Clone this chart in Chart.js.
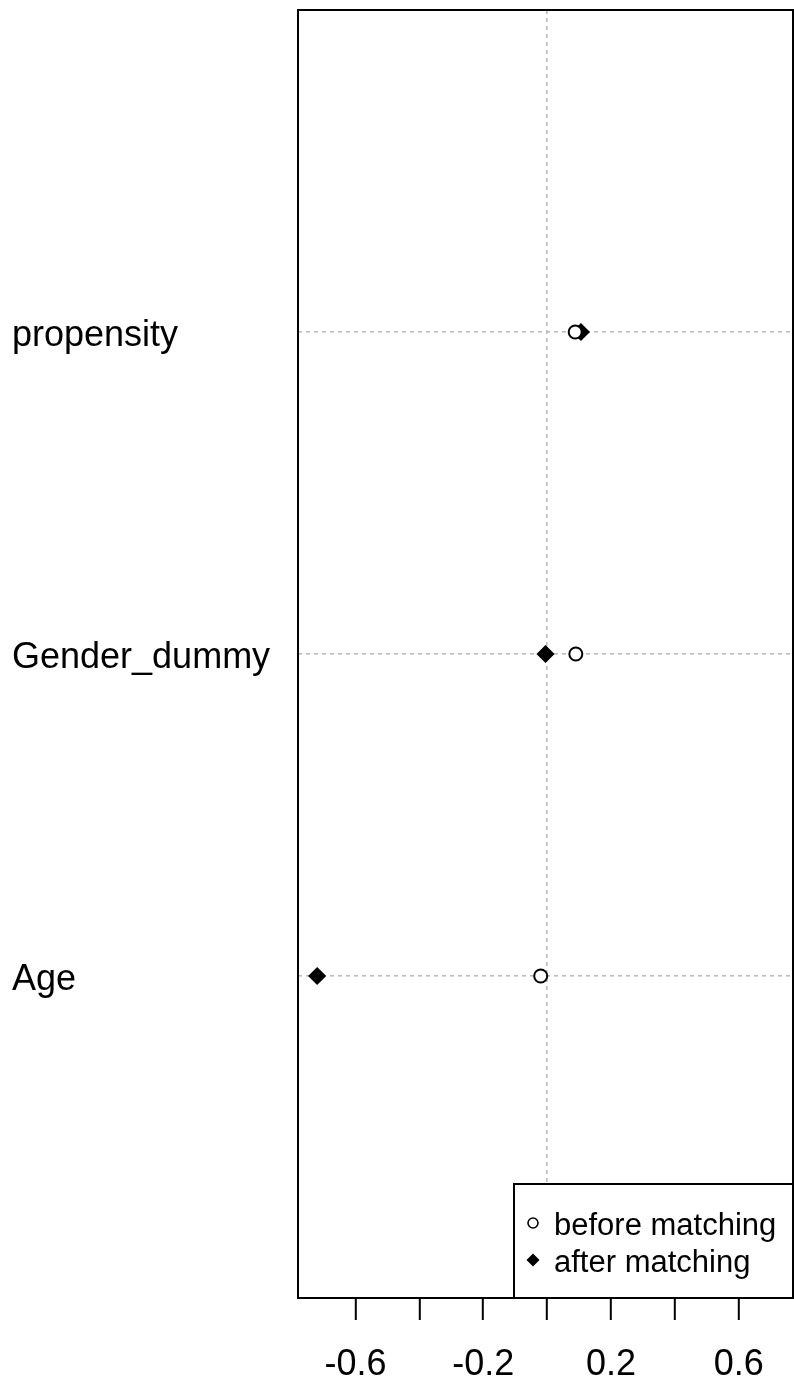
<!DOCTYPE html>
<html>
<head>
<meta charset="utf-8">
<script src="https://cdn.jsdelivr.net/npm/chart.js@4/dist/chart.umd.min.js"></script>
<style>
  html, body { margin: 0; padding: 0; background: #fff; }
  #wrap { width: 794px; height: 1383px; }
</style>
</head>
<body>
<div id="wrap"><canvas id="grafico"></canvas></div>
<script>
// variables, bottom to top (y = 1, 2, 3)
const variaveis = ['Age', 'Gender_dummy', 'propensity'];
const antes = [-0.02, 0.09, 0.088];     // before matching
const depois = [-0.72, -0.005, 0.106];  // after matching
const xTicks = [-0.6, -0.4, -0.2, 0, 0.2, 0.4, 0.6];
const xLabels = [-0.6, -0.2, 0.2, 0.6];
const legendas = ['before matching', 'after matching'];

const fonte = "'Liberation Sans', Arial, sans-serif";
const cinza = '#bcbcbc';

function pontos(vals){
  return vals.map((v, i) => ({ x: v, y: i + 1 }));
}

// box round the plot + legend in the bottom right corner
const moldura = {
  id: 'moldura',
  afterDatasetsDraw(chart){
    const { ctx, chartArea: a } = chart;
    ctx.save();
    ctx.strokeStyle = '#000';
    ctx.lineWidth = 2;
    ctx.strokeRect(a.left, a.top, a.right - a.left, a.bottom - a.top);

    const w = 279, h = 114;
    const lx = a.right - w, ly = a.bottom - h;
    ctx.fillStyle = '#fff';
    ctx.fillRect(lx, ly, w, h);
    ctx.strokeRect(lx, ly, w, h);

    ctx.font = '31px ' + fonte;
    ctx.textBaseline = 'alphabetic';
    chart.data.datasets.forEach((ds, i) => {
      const mx = lx + 19, my = ly + 39 + i * 37;
      ctx.beginPath();
      if (ds.pointStyle === 'rectRot') {
        ctx.moveTo(mx, my - 6.5); ctx.lineTo(mx + 6.5, my); ctx.lineTo(mx, my + 6.5); ctx.lineTo(mx - 6.5, my);
        ctx.closePath();
        ctx.fillStyle = '#000';
        ctx.fill();
      } else {
        ctx.arc(mx, my, 5, 0, Math.PI * 2);
        ctx.lineWidth = 1.6;
        ctx.stroke();
      }
      ctx.fillStyle = '#000';
      ctx.fillText(ds.label, lx + 40, my + 12);
    });
    ctx.restore();
  }
};

const grafico = new Chart(document.getElementById('grafico'), {
  type: 'scatter',
  data: {
    datasets: [
      { label: legendas[0], data: pontos(antes), pointStyle: 'circle', pointRadius: 6.5,
        borderColor: '#000', backgroundColor: '#fff', pointBorderWidth: 2 },
      { label: legendas[1], data: pontos(depois), pointStyle: 'rectRot', pointRadius: 8,
        borderColor: '#000', backgroundColor: '#000', pointBorderWidth: 1.5 }
    ]
  },
  options: {
    responsive: true,
    maintainAspectRatio: false,
    animation: false,
    layout: { autoPadding: false, padding: { left: 12, top: 10, right: 1, bottom: 0 } },
    plugins: { legend: { display: false }, tooltip: { enabled: false } },
    scales: {
      x: {
        type: 'linear',
        min: -0.78,
        max: 0.77,
        afterBuildTicks: s => { s.ticks = xTicks.map(v => ({ value: v })); },
        afterFit: s => { s.height = 85; s.paddingLeft = 0; s.paddingRight = 0; },
        ticks: {
          color: '#000',
          font: { family: fonte, size: 36 },
          padding: 23,
          maxRotation: 0,
          autoSkip: false,
          callback: v => xLabels.includes(v) ? String(v) : ''
        },
        grid: {
          color: c => (c.tick && c.tick.value === 0) ? cinza : 'rgba(0,0,0,0)',
          lineWidth: 1.6,
          tickColor: '#000',
          tickLength: 22,
          tickWidth: 2,
          tickBorderDash: []
        },
        border: { display: false, dash: [4, 4] }
      },
      y: {
        type: 'linear',
        min: 0,
        max: 4,
        afterBuildTicks: s => { s.ticks = variaveis.map((_, i) => ({ value: i + 1 })); },
        afterFit: s => { s.width = 286; s.paddingTop = 0; s.paddingBottom = 0; },
        ticks: {
          color: '#000',
          font: { family: fonte, size: 36 },
          crossAlign: 'far',
          labelOffset: 4,
          autoSkip: false,
          callback: v => variaveis[v - 1] || ''
        },
        grid: { color: cinza, lineWidth: 1.6, drawTicks: false },
        border: { display: false, dash: [4, 4] }
      }
    }
  },
  plugins: [moldura]
});
</script>
</body>
</html>
